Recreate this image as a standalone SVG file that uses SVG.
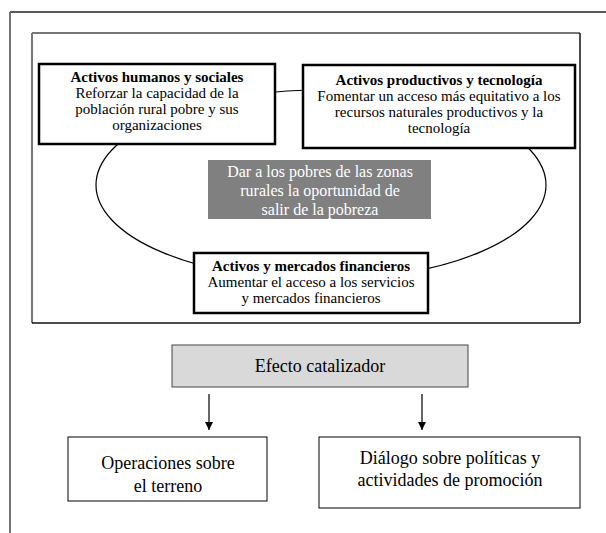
<svg xmlns="http://www.w3.org/2000/svg" width="606" height="533" viewBox="0 0 606 533">
<style>
text{font-family:"Liberation Serif","Times New Roman",serif;fill:#000;text-anchor:middle}
.b{font-weight:bold;font-size:15px}
.t{font-size:15px}
.g{font-size:16px;fill:#fff}
.l{font-size:18px}
.thick{fill:#fff;stroke:#000;stroke-width:2.5}
.thin{fill:#fff;stroke:#000;stroke-width:1}
.con{fill:none;stroke:#000;stroke-width:1.2}
</style>
<defs>
<marker id="ah" viewBox="0 0 10 10" refX="10" refY="5" markerWidth="8" markerHeight="8" markerUnits="userSpaceOnUse" orient="auto">
<path d="M0,0 L10,5 L0,10 Z" fill="#000"/>
</marker>
</defs>
<rect width="606" height="533" fill="#fff"/>
<g id="page">
<line x1="10" y1="12" x2="606" y2="12" stroke="#222" stroke-width="1.3"/>
<line x1="10" y1="12" x2="10" y2="533" stroke="#666" stroke-width="1.8"/>
</g>
<g id="frame">
<line x1="32" y1="33" x2="580" y2="33" stroke="#777" stroke-width="2"/>
<line x1="32" y1="33" x2="32" y2="323" stroke="#777" stroke-width="2"/>
<line x1="580" y1="33" x2="580" y2="323" stroke="#111" stroke-width="1.5"/>
<line x1="32" y1="323" x2="580" y2="323" stroke="#111" stroke-width="1.5"/>
</g>
<g id="connectors">
<ellipse class="con" cx="321" cy="185" rx="225" ry="95"/>
<line class="con" x1="209" y1="394" x2="209" y2="430" marker-end="url(#ah)"/>
<line class="con" x1="422" y1="394" x2="422" y2="430" marker-end="url(#ah)"/>
</g>
<g id="humanos">
<rect class="thick" x="39" y="64" width="236" height="80"/>
<text class="b" x="157" y="82">Activos humanos y sociales</text>
<text class="t" x="157" y="98">Reforzar la capacidad de la</text>
<text class="t" x="157" y="114">población rural pobre y sus</text>
<text class="t" x="157" y="130">organizaciones</text>
</g>
<g id="productivos">
<rect class="thick" x="303" y="65" width="272" height="83"/>
<text class="b" x="439" y="85">Activos productivos y tecnología</text>
<text class="t" x="439" y="101">Fomentar un acceso más equitativo a los</text>
<text class="t" x="439" y="117">recursos naturales productivos y la</text>
<text class="t" x="439" y="133">tecnología</text>
</g>
<g id="centro">
<rect x="208" y="160" width="223" height="59" fill="#808080"/>
<text class="g" x="320" y="177">Dar a los pobres de las zonas</text>
<text class="g" x="320" y="196">rurales la oportunidad de</text>
<text class="g" x="320" y="215">salir de la pobreza</text>
</g>
<g id="financieros">
<rect class="thick" x="194" y="253" width="234" height="60"/>
<text class="b" x="311" y="271">Activos y mercados financieros</text>
<text class="t" x="311" y="287">Aumentar el acceso a los servicios</text>
<text class="t" x="311" y="302.5">y mercados financieros</text>
</g>
<g id="efecto">
<rect x="172" y="345" width="296" height="42" fill="#d9d9d9" stroke="#444" stroke-width="1"/>
<text class="l" x="320" y="372">Efecto catalizador</text>
</g>
<g id="operaciones">
<rect class="thin" x="68" y="437" width="199" height="64"/>
<text class="l" x="168" y="469">Operaciones sobre</text>
<text class="l" x="168" y="492">el terreno</text>
</g>
<g id="dialogo">
<rect class="thin" x="319" y="437" width="261" height="71"/>
<text class="l" x="450" y="464">Diálogo sobre políticas y</text>
<text class="l" x="450" y="486">actividades de promoción</text>
</g>
</svg>
